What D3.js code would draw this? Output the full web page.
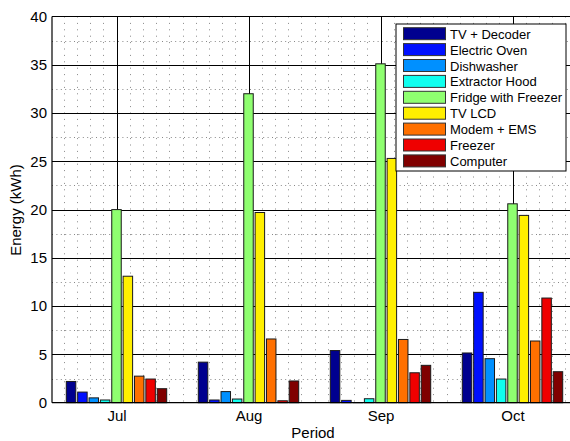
<!DOCTYPE html>
<html>
<head>
<meta charset="utf-8">
<script src="https://cdn.jsdelivr.net/npm/d3@7"></script>
<style>
  html, body { margin: 0; padding: 0; background: #fff; }
  svg { display: block; font-family: "Liberation Sans", Arial, sans-serif; }
</style>
</head>
<body>
<svg id="chart" width="570" height="441"></svg>
<script>
// Monthly energy use per appliance
const categories = ["Jul", "Aug", "Sep", "Oct"];
const seriesNames = ["TV + Decoder", "Electric Oven", "Dishwasher", "Extractor Hood",
  "Fridge with Freezer", "TV LCD", "Modem + EMS", "Freezer", "Computer"];
const tvDecoder     = [2.2, 4.2, 5.4, 5.15];
const electricOven  = [1.1, 0.28, 0.24, 11.43];
const dishwasher    = [0.5, 1.15, 0.02, 4.56];
const extractorHood = [0.28, 0.38, 0.41, 2.45];
const fridgeFreezer = [20, 32, 35.1, 20.6];
const tvLcd         = [13.1, 19.7, 25.3, 19.4];
const modemEms      = [2.75, 6.6, 6.55, 6.39];
const freezer       = [2.45, 0.2, 3.1, 10.84];
const computer      = [1.45, 2.25, 3.87, 3.21];
const yTicks = [0, 5, 10, 15, 20, 25, 30, 35, 40];
const seriesColors = ["#00008f", "#0010ff", "#0090ff", "#10ffef", "#8fff70",
  "#ffef00", "#ff7000", "#ef0000", "#800000"];

const seriesValues = [tvDecoder, electricOven, dishwasher, extractorHood,
  fridgeFreezer, tvLcd, modemEms, freezer, computer];

const svg = d3.select("#chart");
const plotLeft = 52, plotTop = 16.5, plotBottom = 402.7;

// Category positions 1..4 on a continuous axis from 0.5 to 4.5
const x = d3.scaleLinear().domain([0.5, 4.5]).range([50.5, 578.5]);
const y = d3.scaleLinear().domain([0, 40]).range([plotBottom, plotTop]);
const inner = d3.scaleBand().domain(seriesNames).range([-50.2, 50.2]).paddingInner(0.165);

const plotRight = x(4.5);
const grid = svg.append("g");

// Minor vertical grid (dotted) every 0.1 category unit
const minorX = d3.range(6, 45).filter(d => d % 10 !== 0).map(d => d / 10);
grid.selectAll("line.mx").data(minorX).join("line")
  .attr("x1", d => Math.round(x(d)) + 0.5).attr("x2", d => Math.round(x(d)) + 0.5)
  .attr("y1", plotTop).attr("y2", plotBottom)
  .attr("stroke", "#888").attr("stroke-width", 1).attr("stroke-dasharray", "1,5.4");

// Minor horizontal grid at half steps
const minorY = d3.range(2.5, 40, 5);
grid.selectAll("line.my").data(minorY).join("line")
  .attr("x1", plotLeft).attr("x2", plotRight)
  .attr("y1", d => Math.round(y(d)) + 0.5).attr("y2", d => Math.round(y(d)) + 0.5)
  .attr("stroke", "#888").attr("stroke-width", 1).attr("stroke-dasharray", "1,3.4");

// Major grid
grid.selectAll("line.gy").data(yTicks.slice(1, -1)).join("line")
  .attr("x1", plotLeft).attr("x2", plotRight)
  .attr("y1", d => Math.round(y(d)) + 0.5).attr("y2", d => Math.round(y(d)) + 0.5)
  .attr("stroke", "#000").attr("stroke-width", 1);
grid.selectAll("line.gx").data([1, 2, 3, 4]).join("line")
  .attr("x1", d => Math.round(x(d)) + 0.5).attr("x2", d => Math.round(x(d)) + 0.5)
  .attr("y1", plotTop).attr("y2", plotBottom)
  .attr("stroke", "#000").attr("stroke-width", 1);

// Bars
const bars = svg.append("g");
seriesNames.forEach((name, si) => {
  bars.append("g").selectAll("rect").data(seriesValues[si]).join("rect")
    .attr("x", (d, i) => x(i + 1) + inner(name))
    .attr("width", inner.bandwidth())
    .attr("y", d => y(d))
    .attr("height", d => y(0) - y(d))
    .attr("fill", seriesColors[si])
    .attr("stroke", "#1a1a1a").attr("stroke-width", 1);
});

// Axes frame
svg.append("line").attr("x1", plotLeft).attr("x2", plotRight).attr("y1", plotTop).attr("y2", plotTop)
  .attr("stroke", "#000").attr("stroke-width", 1.2);
svg.append("line").attr("x1", plotLeft).attr("x2", plotRight).attr("y1", plotBottom).attr("y2", plotBottom)
  .attr("stroke", "#000").attr("stroke-width", 1.2);
svg.append("line").attr("x1", plotLeft).attr("x2", plotLeft).attr("y1", plotTop).attr("y2", plotBottom)
  .attr("stroke", "#000").attr("stroke-width", 1.2);

// Y axis tick labels
const yAxis = d3.axisLeft(y).tickValues(yTicks).tickSize(0).tickPadding(5);
const gy = svg.append("g").attr("transform", `translate(${plotLeft},0)`).call(yAxis);
gy.select(".domain").remove();
gy.selectAll("text").attr("font-size", 15).attr("font-family", "Liberation Sans, Arial, sans-serif").attr("fill", "#000");

// X axis tick labels
const xAxis = d3.axisBottom(x).tickValues([1, 2, 3, 4]).tickFormat(d => categories[d - 1]).tickSize(0).tickPadding(8);
const gx = svg.append("g").attr("transform", `translate(0,${plotBottom})`).call(xAxis);
gx.select(".domain").remove();
gx.selectAll("text").attr("font-size", 15).attr("font-family", "Liberation Sans, Arial, sans-serif").attr("fill", "#000");

// Axis titles
svg.append("text").attr("x", 313).attr("y", 438).attr("text-anchor", "middle")
  .attr("font-size", 15).text("Period");
svg.append("text").attr("transform", "translate(21,210) rotate(-90)").attr("text-anchor", "middle")
  .attr("font-size", 15).text("Energy (kWh)");

// Legend
const legend = svg.append("g");
legend.append("rect").attr("x", 396).attr("y", 24).attr("width", 170).attr("height", 147)
  .attr("fill", "#fff").attr("stroke", "#000").attr("stroke-width", 1);
const rows = legend.selectAll("g.row").data(seriesNames).join("g")
  .attr("transform", (d, i) => `translate(0,${27.7 + i * 15.9})`);
rows.append("rect").attr("x", 403.5).attr("y", 0).attr("width", 42).attr("height", 12)
  .attr("fill", (d, i) => seriesColors[i]).attr("stroke", "#333").attr("stroke-width", 1);
rows.append("text").attr("x", 450).attr("y", 6.5).attr("dominant-baseline", "central")
  .attr("font-size", 13).text(d => d);
</script>
</body>
</html>
